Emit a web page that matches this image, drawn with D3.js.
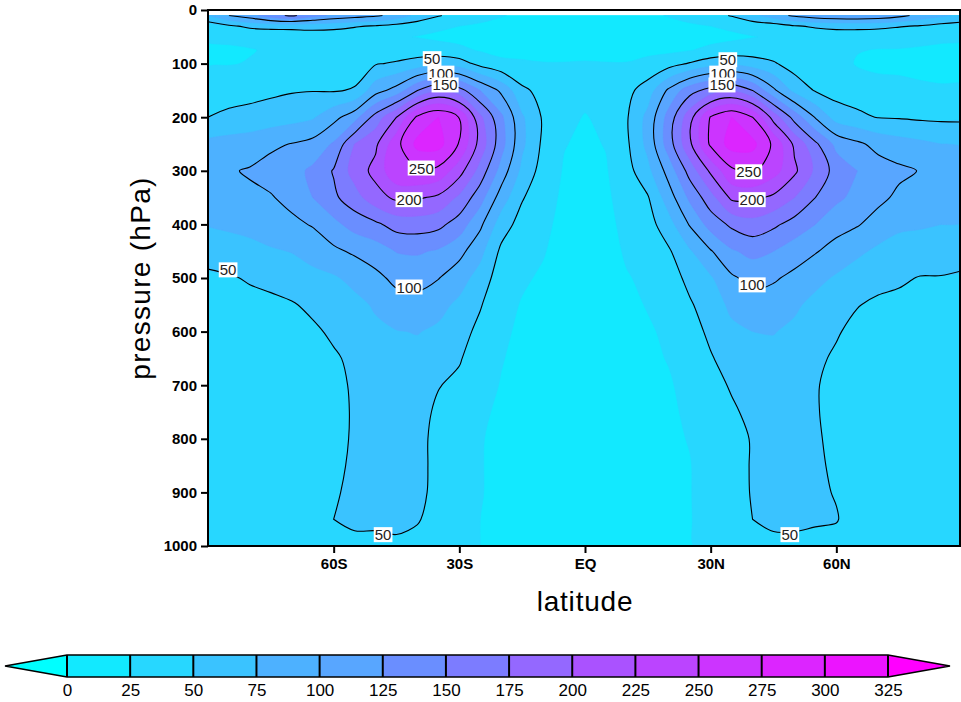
<!DOCTYPE html>
<html>
<head>
<meta charset="utf-8">
<script src="https://cdnjs.cloudflare.com/ajax/libs/d3/7.8.5/d3.min.js"></script>
<style>
body { margin: 0; background: #fff; }
svg { display: block; font-family: "Liberation Sans", Arial, sans-serif; }
</style>
</head>
<body>
<svg id="chart" width="961" height="702"></svg>
<script>
// Data ////////////////////////////////////////////////////////////////

var lats = [-90, -85, -80, -75, -70, -65, -60, -55, -50, -45, -40, -35, -30, -25, -20, -15, -10, -5, 0,
            5, 10, 15, 20, 25, 30, 35, 40, 45, 50, 55, 60, 65, 70, 75, 80, 85, 90];

var levels = [10, 30, 50, 75, 100, 150, 200, 250, 300, 350, 400, 450, 500, 550, 600, 650, 700, 750, 800, 850, 900, 950, 1000];

// one row per pressure level, one value per latitude
var field = [
    [75,100,115,140,155,135,120,112,105,90,68,52,40,32,26,22,20,19,18,19,20,22,26,32,40,52,68,88,105,115,120,122,118,108,92,80,70],
    [33,46,55,58,58,59,56,52,48,42,36,30,25,22,20,18,17,16,16,16,17,18,20,22,25,30,36,38,48,53,56,57,56,52,48,42,38],
    [27,28,30,32,34,36,38,36,32,28,24,20,18,16,15,14,14,13,13,13,14,14,15,16,18,20,24,28,32,36,38,36,34,32,30,28,27],
    [22,23,24,27,29,30,32,32,38,36,38,36,30,23,19,18,17,17,17,17,17,19,20,24,30,36,38,36,34,33,33,26,24,24,23,22,21],
    [23,24,26,29,32,34,37,38,48,53,60,67,62,42,30,28,26,26,27,26,26,32,40,52,65,70,62,53,38,36,34,23,22,21,20,19,19],
    [38,40,42,45,48,49,48,52,90,110,150,175,160,125,95,55,42,31,30,31,43,62,105,140,160,172,150,105,68,48,40,38,30,30,28,27,27],
    [50,55,58,62,66,72,92,115,160,200,255,275,249,180,130,78,47,30,24,29,48,82,135,190,252,275,250,190,140,98,64,55,49,48,46,45,45],
    [80,85,88,95,101,108,128,175,195,242,282,284,248,190,135,80,45,26,21,26,46,82,138,195,255,285,282,245,195,155,118,105,92,85,80,75,73],
    [90,98,102,110,116,130,152,185,208,245,250,243,210,165,115,68,40,23,19,23,41,68,110,160,205,245,255,235,205,170,140,125,112,105,99,92,88],
    [86,92,96,98,108,125,145,165,190,205,203,195,170,135,88,52,34,21,18,21,35,48,88,130,165,205,205,195,175,150,130,118,106,95,92,88,86],
    [76,80,84,90,94,102,118,135,145,160,162,157,138,105,62,40,29,20,17,20,30,40,65,102,135,155,165,155,140,125,110,102,90,80,78,75,74],
    [58,62,66,72,76,84,95,104,112,126,128,122,108,82,45,33,26,19,16,19,27,33,47,72,98,122,132,125,112,102,90,80,70,64,62,60,58],
    [46,48,52,56,62,68,72,82,94,106,108,101,85,65,36,27,23,18,16,18,24,28,38,57,72,96,108,103,94,82,72,62,57,53,49,49,47],
    [42,43,44,45,48,55,62,68,78,90,92,82,70,52,30,24,20,17,15,17,21,26,32,47,63,80,90,88,79,68,60,51,46,45,44,43,42],
    [40,41,42,42,43,46,54,60,70,74,76,71,60,43,28,22,19,16,15,16,20,23,28,40,55,70,75,76,70,60,52,44,42,41,41,41,40],
    [40,41,42,42,42,43,47,55,64,68,68,60,52,37,26,20,18,16,14,16,19,21,26,35,48,60,66,68,65,54,47,41,40,40,40,40,40],
    [40,41,42,42,42,42,44,53,61,64,64,51,45,32,24,19,17,15,14,15,18,20,23,31,43,52,60,64,62,51,46,40,40,40,40,40,40],
    [40,41,42,42,42,42,44,52,60,63,58,46,40,28,22,18,16,15,14,15,17,19,22,28,39,47,55,62,61,51,46,40,40,40,40,40,40],
    [40,41,42,42,42,42,45,52,60,63,56,44,38,26,21,17,16,15,14,15,16,18,21,26,37,45,51,61,61,52,46,40,40,40,40,40,40],
    [40,41,42,42,42,42,46,53,60,63,56,44,37,26,20,17,15,14,13,14,16,17,20,24,35,45,51,61,61,53,47,41,40,40,40,40,40],
    [40,40,41,42,42,42,48,54,59,62,56,43,36,26,20,17,15,14,13,14,15,17,20,24,34,44,51,60,60,53,49,42,41,40,40,40,40],
    [38,39,40,41,41,41,50,53,56,58,52,40,34,25,19,16,15,14,13,14,15,16,19,24,32,41,50,56,57,52,51,42,41,40,39,39,38],
    [36,37,38,39,39,40,44,46,42,44,42,35,30,25,19,16,15,14,13,14,15,16,18,24,29,35,40,43,42,45,44,40,39,38,37,37,36]
];

var fillLevels = [0, 25, 50, 75, 100, 125, 150, 175, 200, 225, 250, 275, 300, 325];
var lineLevels = [50, 100, 150, 200, 250];

// first colour is below 0, last one above 325
var bandColors = ["#00ffff", "#12e9ff", "#27d7ff", "#3ac3ff", "#4db1ff", "#58a6ff", "#6a8eff", "#7c7cff",
                  "#9468ff", "#aa52ff", "#bb44ff", "#cc34ff", "#dc25ff", "#ec14ff", "#ff00ff"];

var latTicks = [-60, -30, 0, 30, 60];
var latTickLabels = ["60S", "30S", "EQ", "30N", "60N"];
var pressureTicks = [0, 100, 200, 300, 400, 500, 600, 700, 800, 900, 1000];

// contour labels: value, latitude, pressure
var labelValues = [50, 100, 150, 250, 200, 100, 50, 50, 50, 100, 150, 250, 200, 100, 50];
var labelLats = [-36.5, -34.4, -33.4, -39.1, -42, -42, -85.2, -48.2, 34.1, 32.9, 32.7, 39.1, 39.9, 39.9, 48.9];
var labelPres = [91, 118, 140, 295, 354, 517, 485, 979, 93, 118, 140, 302, 354, 513, 979];

// Scales ///////////////////////////////////////////////////////////////

var svg = d3.select("#chart");
var plotL = 208, plotR = 960, plotT = 10, plotB = 546;

var x = d3.scaleLinear().domain([-90, 90]).range([plotL, 962]);
var y = d3.scaleLinear().domain([0, 1000]).range([plotT, plotB]);

var nx = lats.length, ny = levels.length;
var values = field.flat();

// grid index -> latitude / pressure
var latAt = d3.scaleLinear().domain(d3.range(nx)).range(lats).clamp(true);
var levAt = d3.scaleLinear().domain(d3.range(ny)).range(levels).clamp(true);

function project(pt) {
    return [x(latAt(pt[0] - 0.5)), y(levAt(pt[1] - 0.5))];
}

var closedCurve = d3.line().curve(d3.curveCatmullRomClosed.alpha(0.5));
var openCurve = d3.line().curve(d3.curveCatmullRom.alpha(0.5));

function fillPath(c) {
    var d = "";
    c.coordinates.forEach(function(poly) {
        poly.forEach(function(ring) {
            d += closedCurve(ring.slice(0, -1).map(project));
        });
    });
    return d;
}

// skip the pieces of a ring that run along the grid border
function onEdge(a, b) {
    return (a[0] <= 0.5 && b[0] <= 0.5) || (a[0] >= nx - 0.5 && b[0] >= nx - 0.5) ||
           (a[1] <= 0.5 && b[1] <= 0.5) || (a[1] >= ny - 0.5 && b[1] >= ny - 0.5);
}

function linePath(c) {
    var d = "";
    c.coordinates.forEach(function(poly) {
        poly.forEach(function(ring) {
            var pts = ring.slice(0, -1), n = pts.length, s = -1;
            for (var i = 0; i < n; i++) {
                if (onEdge(pts[i], pts[(i + 1) % n])) { s = i; break; }
            }
            if (s < 0) { d += closedCurve(pts.map(project)); return; }
            var cur = null;
            for (var k = 1; k <= n; k++) {
                var a = pts[(s + k) % n], b = pts[(s + k + 1) % n];
                if (onEdge(a, b)) {
                    if (cur) d += openCurve(cur.map(project));
                    cur = null;
                    continue;
                }
                if (!cur) cur = [a];
                cur.push(b);
            }
            if (cur) d += openCurve(cur.map(project));
        });
    });
    return d;
}

// Plot /////////////////////////////////////////////////////////////////

svg.append("clipPath").attr("id", "plot-clip")
    .append("rect")
        .attr("x", plotL).attr("y", y(levels[0]))
        .attr("width", plotR - plotL).attr("height", y(levels[ny - 1]) - y(levels[0]));

var plot = svg.append("g").attr("clip-path", "url(#plot-clip)");

plot.append("rect")
    .attr("x", plotL).attr("y", y(levels[0]))
    .attr("width", plotR - plotL).attr("height", y(levels[ny - 1]) - y(levels[0]))
    .attr("fill", bandColors[1]);

var bands = d3.contours().size([nx, ny]).thresholds(fillLevels)(values);

plot.selectAll(".band")
    .data(bands)
    .enter()
    .append("path")
        .attr("class", "band")
        .attr("d", fillPath)
        .attr("fill", function(d, i) { return bandColors[i + 1] })
        .attr("fill-rule", "evenodd")
        .attr("stroke", function(d, i) { return bandColors[i + 1] })
        .attr("stroke-width", 0.6);

var lines = d3.contours().size([nx, ny]).thresholds(lineLevels)(values);

plot.selectAll(".cline")
    .data(lines)
    .enter()
    .append("path")
        .attr("class", "cline")
        .attr("d", linePath)
        .attr("fill", "none")
        .attr("stroke", "#000")
        .attr("stroke-width", 1.1);

// Contour labels
labelValues.forEach(function(v, i) {
    var g = svg.append("g")
        .attr("transform", "translate(" + x(labelLats[i]) + "," + y(labelPres[i]) + ")");
    var bg = g.append("rect").attr("fill", "#fff");
    var t = g.append("text")
        .attr("text-anchor", "middle")
        .attr("dy", "0.36em")
        .attr("font-size", 15)
        .attr("fill", "#222")
        .text(v);
    var bb = t.node().getBBox();
    bg.attr("x", bb.x - 1).attr("y", bb.y + 1).attr("width", bb.width + 2).attr("height", bb.height - 2);
});

// Frame
svg.append("rect")
    .attr("x", plotL).attr("y", plotT)
    .attr("width", plotR - plotL).attr("height", plotB - plotT)
    .attr("fill", "none").attr("stroke", "#000").attr("stroke-width", 2);

// Axes
var yAxis = d3.axisLeft(y).tickValues(pressureTicks).tickSize(7).tickPadding(4).tickFormat(d3.format("d"));
var gy = svg.append("g").attr("transform", "translate(" + plotL + ",0)").call(yAxis);

var xAxis = d3.axisBottom(x).tickValues(latTicks).tickSize(7).tickPadding(5)
    .tickFormat(function(d, i) { return latTickLabels[i] });
var gx = svg.append("g").attr("transform", "translate(0," + plotB + ")").call(xAxis);

[gx, gy].forEach(function(g) {
    g.select(".domain").remove();
    g.selectAll("line").attr("stroke", "#000").attr("stroke-width", 2);
    g.selectAll("text")
        .attr("font-family", "Liberation Sans, Arial, sans-serif")
        .attr("font-size", 15)
        .attr("font-weight", "bold")
        .attr("fill", "#000");
});

svg.append("text")
    .attr("x", x(0)).attr("y", 611)
    .attr("text-anchor", "middle")
    .attr("font-size", 28)
    .attr("letter-spacing", 0.8)
    .text("latitude");

svg.append("text")
    .attr("transform", "translate(150," + y(500) + ") rotate(-90)")
    .attr("text-anchor", "middle")
    .attr("font-size", 28)
    .attr("letter-spacing", 1.3)
    .text("pressure (hPa)");

// Colour bar ///////////////////////////////////////////////////////////

var cb = d3.scaleLinear().domain([0, 325]).range([67, 888]);
var cbTop = 655, cbH = 22, cbMid = cbTop + cbH / 2;
var bar = svg.append("g");

bar.selectAll(".box")
    .data(fillLevels.slice(0, -1))
    .enter()
    .append("rect")
        .attr("class", "box")
        .attr("x", function(d) { return cb(d) })
        .attr("y", cbTop)
        .attr("width", cb(25) - cb(0))
        .attr("height", cbH)
        .attr("fill", function(d, i) { return bandColors[i + 1] });

bar.append("path")
    .attr("d", "M" + cb(0) + "," + cbTop + "L5," + cbMid + "L" + cb(0) + "," + (cbTop + cbH) + "Z")
    .attr("fill", bandColors[0]);

bar.append("path")
    .attr("d", "M" + cb(325) + "," + cbTop + "L950," + cbMid + "L" + cb(325) + "," + (cbTop + cbH) + "Z")
    .attr("fill", bandColors[bandColors.length - 1]);

bar.selectAll(".sep")
    .data(fillLevels)
    .enter()
    .append("line")
        .attr("class", "sep")
        .attr("x1", function(d) { return cb(d) })
        .attr("x2", function(d) { return cb(d) })
        .attr("y1", cbTop).attr("y2", cbTop + cbH)
        .attr("stroke", "#000").attr("stroke-width", 2);

bar.append("path")
    .attr("d", "M" + cb(0) + "," + cbTop + "L" + cb(325) + "," + cbTop + "L950," + cbMid +
               "L" + cb(325) + "," + (cbTop + cbH) + "L" + cb(0) + "," + (cbTop + cbH) + "L5," + cbMid + "Z")
    .attr("fill", "none").attr("stroke", "#000").attr("stroke-width", 1.5);

var cbAxis = d3.axisBottom(cb).tickValues(fillLevels).tickSize(0).tickPadding(7);
var gc = svg.append("g").attr("transform", "translate(0," + (cbTop + cbH) + ")").call(cbAxis);
gc.select(".domain").remove();
gc.selectAll("text")
    .attr("font-family", "Liberation Sans, Arial, sans-serif")
    .attr("font-size", 17)
    .attr("fill", "#000");
</script>
</body>
</html>
